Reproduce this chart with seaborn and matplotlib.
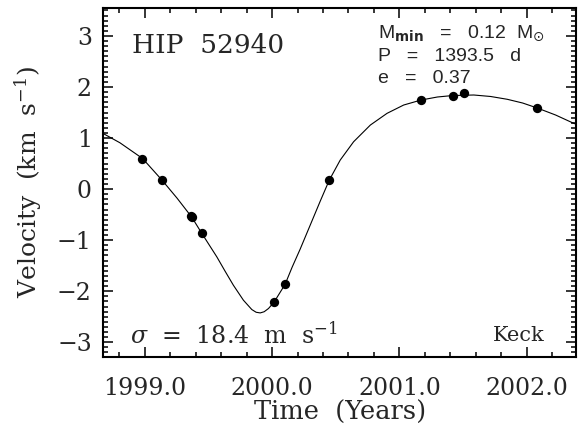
import matplotlib
matplotlib.use("Agg")
import matplotlib.pyplot as plt
import seaborn as sns
import pandas as pd
from matplotlib.ticker import MultipleLocator

# Observed radial velocities (Keck)
obs_time = [1998.98, 1999.134, 1999.365, 1999.372, 1999.45, 2000.018, 2000.10,
            2000.45, 2001.17, 2001.42, 2001.51, 2002.08]
obs_vel = [0.59, 0.18, -0.53, -0.55, -0.86, -2.21, -1.86,
           0.18, 1.75, 1.82, 1.88, 1.59]

# Orbit fit curve
fit_time = [1998.669, 1998.803, 1998.982, 1999.134, 1999.252, 1999.368, 1999.446,
            1999.565, 1999.630, 1999.695, 1999.774, 1999.840, 1999.874, 1999.906,
            1999.937, 1999.971, 2000.016, 2000.102, 2000.157, 2000.220, 2000.299,
            2000.378, 2000.449, 2000.535, 2000.640, 2000.772, 2000.903, 2001.034,
            2001.171, 2001.299, 2001.420, 2001.585, 2001.717, 2001.848, 2001.969,
            2002.084, 2002.228, 2002.360, 2002.394]
fit_vel = [1.092, 0.908, 0.598, 0.176, -0.176, -0.549, -0.863,
           -1.327, -1.608, -1.882, -2.176, -2.359, -2.412, -2.425,
           -2.402, -2.339, -2.210, -1.863, -1.529, -1.176, -0.706,
           -0.235, 0.176, 0.569, 0.927, 1.255, 1.484, 1.647,
           1.745, 1.804, 1.833, 1.843, 1.814, 1.759, 1.686,
           1.588, 1.451, 1.300, 1.265]

x_ticks = [1999.0, 2000.0, 2001.0, 2002.0]
x_tick_labels = ["1999.0", "2000.0", "2001.0", "2002.0"]
y_ticks = [-3, -2, -1, 0, 1, 2, 3]

sns.set_style("ticks")
plt.rcParams["font.family"] = ["DejaVu Serif"]
plt.rcParams["mathtext.fontset"] = "dejavuserif"

fig = plt.figure(figsize=(5.85, 4.36), dpi=100)
ax = fig.add_axes([0.176, 0.181, 0.809, 0.801])

fit_df = pd.DataFrame({"t": fit_time, "v": fit_vel})
obs_df = pd.DataFrame({"t": obs_time, "v": obs_vel})

sns.lineplot(data=fit_df, x="t", y="v", ax=ax, color="black", lw=0.8,
             sort=False, estimator=None)
sns.scatterplot(data=obs_df, x="t", y="v", ax=ax, color="black", s=45,
                edgecolor="black", linewidth=0, zorder=3)

ax.set_xlim(1998.67, 2002.39)
ax.set_ylim(-3.29, 3.55)
ax.set_xticks(x_ticks)
ax.set_xticklabels(x_tick_labels)
ax.set_yticks(y_ticks)
ax.set_yticklabels([str(v).replace("-", "\u2212") for v in y_ticks])
ax.xaxis.set_minor_locator(MultipleLocator(0.2))
ax.yaxis.set_minor_locator(MultipleLocator(0.1))
ax.tick_params(which="both", direction="in", top=True, right=True,
               labelsize=17, width=1.1, color="black")
ax.tick_params(axis="x", which="major", length=7, pad=14)
ax.tick_params(axis="y", which="major", length=7, pad=8)
ax.tick_params(which="minor", length=3.6)
for s in ax.spines.values():
    s.set_linewidth(1.5)
    s.set_color("black")

ax.set_xlabel("Time  (Years)", fontsize=18.5, labelpad=0)
ax.set_ylabel("Velocity  (km  s$^{-1}$)", fontsize=18, labelpad=9)

ax.text(0.061, 0.891, "HIP  52940", transform=ax.transAxes, fontsize=19,
        ha="left", va="center")
sans = ["Liberation Sans", "DejaVu Sans"]
ax.text(0.581, 0.928, r"M$_{\mathbf{min}}$   =   0.12  M$_{\odot}$", transform=ax.transAxes,
        fontsize=14, ha="left", va="center", family=sans, math_fontfamily="dejavusans")
ax.text(0.581, 0.860, "P   =   1393.5   d", transform=ax.transAxes,
        fontsize=14, ha="left", va="center", family=sans)
ax.text(0.581, 0.797, "e   =   0.37", transform=ax.transAxes,
        fontsize=14, ha="left", va="center", family=sans)
ax.text(0.057, 0.063, r"$\sigma$  =  18.4  m  s$^{-1}$", transform=ax.transAxes,
        fontsize=17, ha="left", va="center")
ax.text(0.934, 0.063, "Keck", transform=ax.transAxes, fontsize=15,
        ha="right", va="center")

fig.savefig("out.png", dpi=100)
